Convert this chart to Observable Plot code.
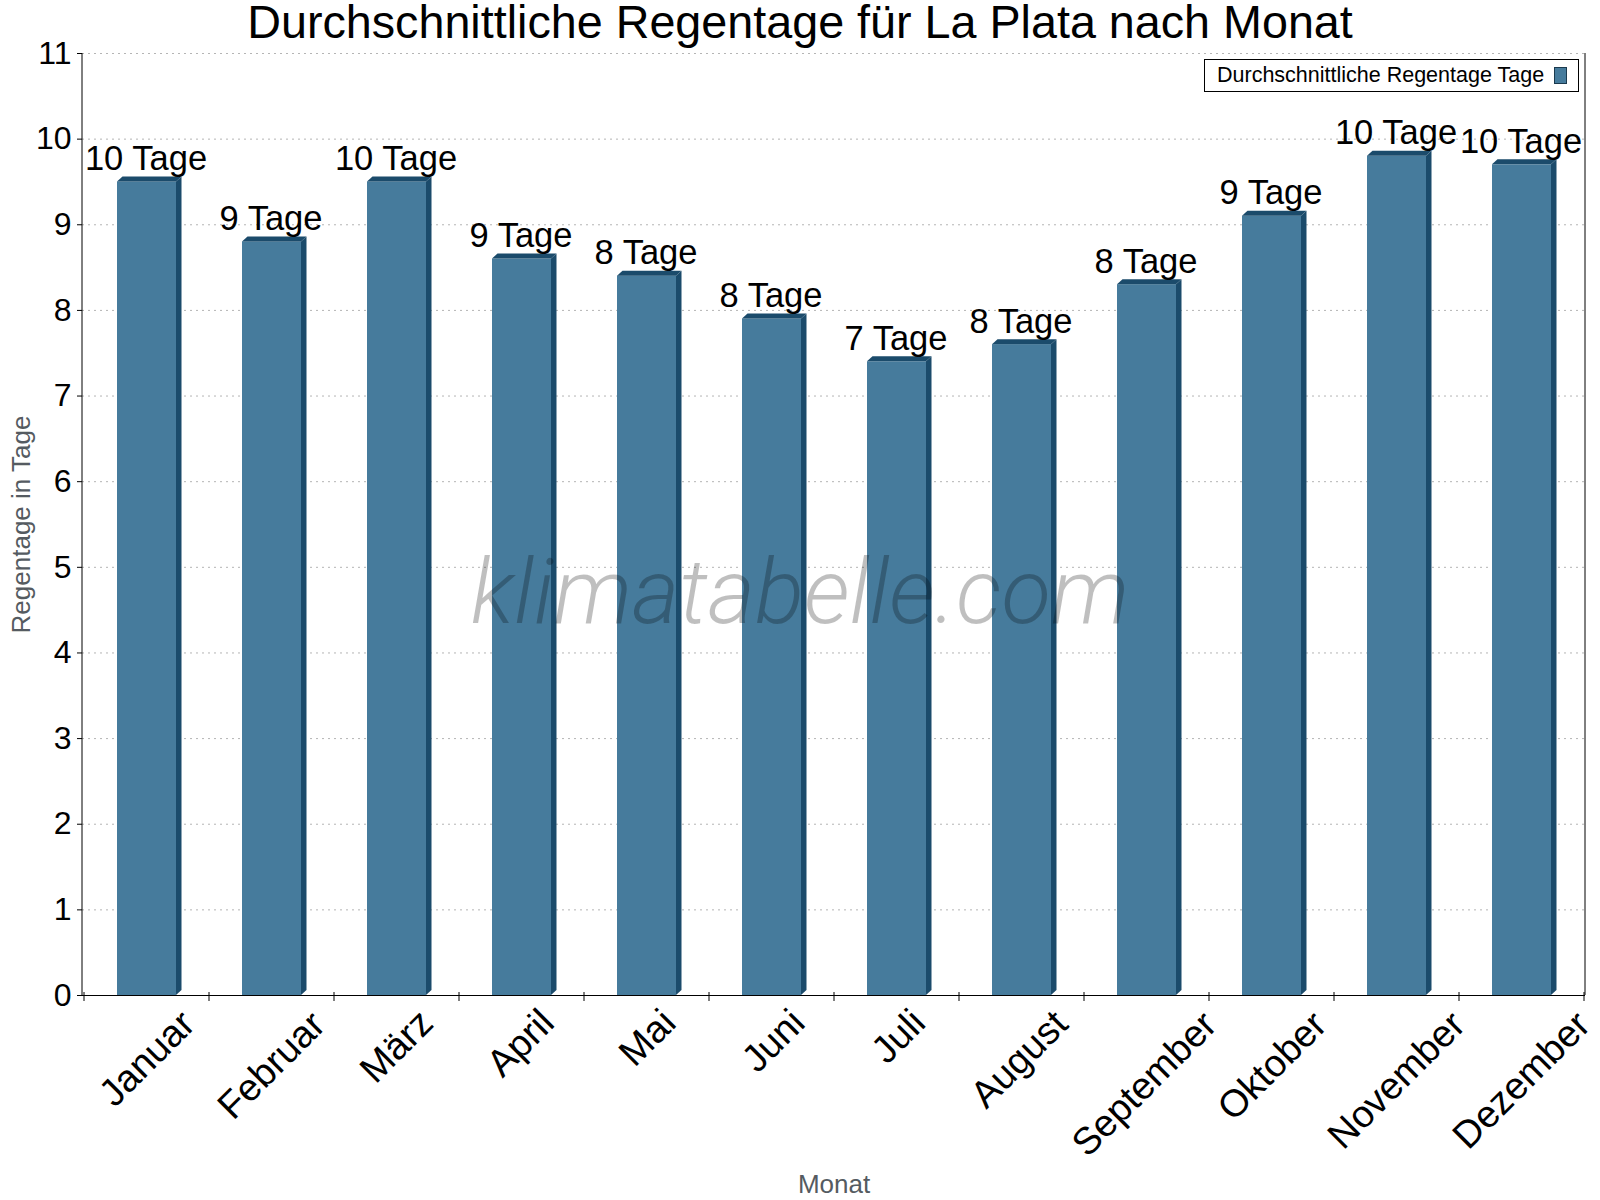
<!DOCTYPE html>
<html>
<head>
<meta charset="utf-8">
<script src="https://cdn.jsdelivr.net/npm/d3@7"></script>
<script src="https://cdn.jsdelivr.net/npm/@observablehq/plot@0.6"></script>
<style>
  body { margin: 0; background: #fff; font-family: "Liberation Sans", Arial, sans-serif; }
  #wrap { position: relative; width: 1600px; height: 1200px; overflow: hidden; background: #fff; }
  #title { height: 46px; line-height: 44px; font-size: 46.7px; text-align: center; color: #000; white-space: nowrap; }
  #legend { position: absolute; left: 1204px; top: 59px; width: 375px; height: 33px; box-sizing: border-box;
            border: 1px solid #000; background: #fff; font-size: 21.5px; line-height: 31px; padding-left: 12px; color: #000; white-space: nowrap; }
  #swatch { position: absolute; left: 349px; top: 7px; width: 13px; height: 17px; box-sizing: border-box; border: 1px solid #1b3a4e; }
  #wm { position: absolute; left: 0; top: 547px; width: 1600px; text-align: center; font-family: Roboto, "Liberation Sans", sans-serif;
        font-style: italic; font-weight: 300; font-size: 91px; line-height: 91px; color: rgba(0,0,0,0.25); pointer-events: none; white-space: nowrap; }
</style>
</head>
<body>
<div id="wrap">
  <div id="title"></div>
  <div id="chart"></div>
  <div id="legend"><span id="legtext"></span><div id="swatch"></div></div>
  <div id="wm">klimatabelle.com</div>
</div>
<script>
const titleText = "Durchschnittliche Regentage für La Plata nach Monat";
const months = ["Januar", "Februar", "März", "April", "Mai", "Juni", "Juli", "August", "September", "Oktober", "November", "Dezember"];
const rainDays = [9.5, 8.8, 9.5, 8.6, 8.4, 7.9, 7.4, 7.6, 8.3, 9.1, 9.8, 9.7];
const yTicks = [0, 1, 2, 3, 4, 5, 6, 7, 8, 9, 10, 11];
const unit = "Tage";
const seriesName = "Durchschnittliche Regentage Tage";
const yLabel = "Regentage in Tage";
const xLabel = "Monat";

const frontColor = "#467b9c";
const darkColor = "#1b4b6b";
const DX = 5.5, DY = 5;
const FONT = "Liberation Sans, Arial, sans-serif";
const X_LABEL_SIZE = 38;

const data = months.map((m, i) => ({ month: m, value: rainDays[i], label: Math.round(rainDays[i]) + " " + unit }));

document.getElementById("title").textContent = titleText;
document.getElementById("legtext").textContent = seriesName;
document.getElementById("swatch").style.background = frontColor;

const measureCtx = document.createElement("canvas").getContext("2d");
measureCtx.font = X_LABEL_SIZE + "px 'Liberation Sans', Arial, sans-serif";
measureCtx.textAlign = "center";

function depthMark(index, scales, values, dims) {
  const x = scales.x, y = scales.y;
  const bw = typeof x.bandwidth === "function" ? x.bandwidth() : x.bandwidth;
  const step = x(months[1]) - x(months[0]);
  const y0 = y(0);
  const g = d3.create("svg:g");
  data.forEach(d => {
    const x0 = x(d.month), x1 = x0 + bw, yt = y(d.value);
    g.append("polygon")
      .attr("points", [[x1, y0], [x1, yt], [x1 + DX, yt - DY], [x1 + DX, y0 - DY]].map(p => p.join(",")).join(" "))
      .attr("fill", darkColor);
    g.append("polygon")
      .attr("points", [[x0, yt], [x0 + DX, yt - DY], [x1 + DX, yt - DY], [x1, yt]].map(p => p.join(",")).join(" "))
      .attr("fill", darkColor);
  });
  const left = dims.marginLeft, right = dims.width - dims.marginRight, top = dims.marginTop;
  g.append("line").attr("x1", left).attr("x2", left).attr("y1", top).attr("y2", y0).attr("stroke", "#000");
  g.append("line").attr("x1", right).attr("x2", right).attr("y1", top).attr("y2", y0).attr("stroke", "#000");
  const start = x(months[0]) - (step - bw) / 2;
  for (let i = 0; i <= months.length; i++) {
    const bx = start + i * step;
    g.append("line").attr("x1", bx).attr("x2", bx).attr("y1", y0 - 3).attr("y2", y0 + 6).attr("stroke", "#000");
  }
  // rotated month labels: bounding box centred on band, top aligned below axis
  const c = Math.SQRT1_2;
  const T = y0 + 12;
  months.forEach(m => {
    const mt = measureCtx.measureText(m);
    const L = mt.actualBoundingBoxLeft, R = mt.actualBoundingBoxRight;
    const A = mt.actualBoundingBoxAscent, D = mt.actualBoundingBoxDescent;
    const cx = x(m) + bw / 2;
    const px = cx - (R + D - L - A) / 2 * c;
    const py = T + (R + A) * c;
    g.append("text")
      .attr("transform", `translate(${px},${py}) rotate(-45)`)
      .attr("text-anchor", "middle")
      .attr("font-size", X_LABEL_SIZE)
      .attr("font-family", FONT)
      .attr("fill", "#000")
      .text(m);
  });
  return g.node();
}

const chart = Plot.plot({
  width: 1600,
  height: 1154,
  marginTop: 7,
  marginRight: 15,
  marginBottom: 205,
  marginLeft: 82,
  style: { fontFamily: FONT, overflow: "visible", background: "transparent" },
  x: { domain: months, paddingInner: 0.53, paddingOuter: 0.265, axis: null },
  y: { domain: [0, 11], axis: null },
  marks: [
    Plot.gridY(yTicks, { stroke: "#b5b5b5", strokeOpacity: 1, strokeDasharray: "2,4" }),
    Plot.barY(data, { x: "month", y: "value", fill: frontColor }),
    depthMark,
    Plot.ruleY([0], { stroke: "#000" }),
    Plot.axisY(yTicks, { tickSize: 5, tickPadding: 6, fontSize: 32, color: "#000", label: null, tickFormat: d3.format("d") }),
    Plot.text(data, { x: "month", y: "value", text: "label", dx: -1, dy: -12, lineAnchor: "bottom", fontSize: 34.5, fill: "#000" }),
    Plot.text([yLabel], { frameAnchor: "left", textAnchor: "middle", rotate: -90, dx: -61, fontSize: 26, fill: "#555b61" }),
    Plot.text([xLabel], { frameAnchor: "bottom", textAnchor: "middle", dy: 197, fontSize: 26, fill: "#555b61" })
  ]
});
document.getElementById("chart").appendChild(chart);
</script>
</body>
</html>
